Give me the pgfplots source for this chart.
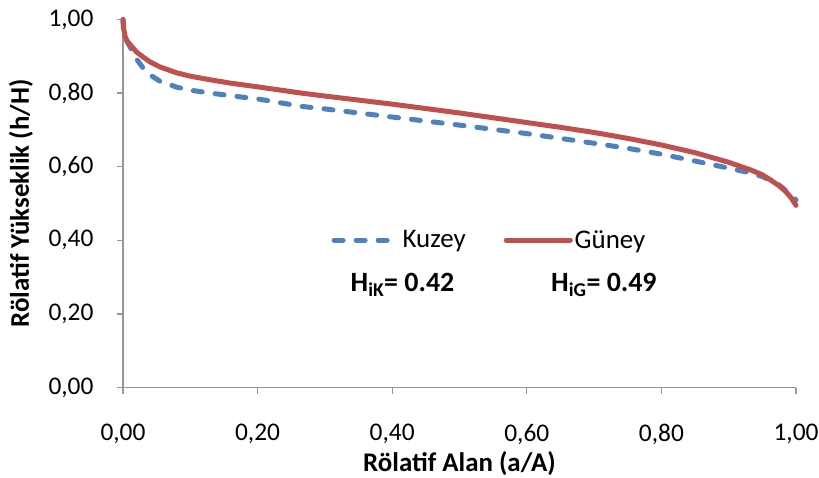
\documentclass[border=0pt]{standalone}
\usepackage{pgfplots}
\pgfplotsset{compat=1.18}
\usepackage{fontspec}
\setmainfont{Carlito}
\definecolor{kblue}{RGB}{79,129,189}
\definecolor{gred}{RGB}{192,80,77}
\definecolor{axgray}{RGB}{150,150,150}
\begin{document}
\begin{tikzpicture}
\useasboundingbox (-123bp,-90.5bp) rectangle (696bp,387.5bp);
\begin{axis}[
  at={(0,0)}, anchor=south west,
  scale only axis, width=673bp, height=368bp,
  xmin=0, xmax=1, ymin=0, ymax=1,
  axis lines=left, axis line style={-, axgray, line width=1.3bp},
  tick style={axgray, line width=1.3bp},
  tick align=outside, major tick length=6bp,
  xtick={0,0.2,0.4,0.6,0.8,1}, ytick={0,0.2,0.4,0.6,0.8,1},
  /pgf/number format/assume math mode=true,
  /pgf/number format/.cd, fixed, fixed zerofill, precision=2, use comma, /pgfplots/.cd,
  ticklabel style={font=\fontsize{25.5}{30}\selectfont, text=black},
  xticklabel style={yshift=-27bp},
  yticklabel style={xshift=-20bp},
  xlabel={\textbf{Rölatif Alan (a/A)}},
  ylabel={\textbf{Rölatif Yükseklik (h/H)}},
  label style={font=\fontsize{27}{32}\selectfont},
  xlabel style={at={(axis description cs:0.5,-0.208)}, anchor=center},
  ylabel style={at={(axis description cs:-0.1515,0.5)}, anchor=center},
  clip=false,
  legend columns=2,
  legend style={draw=none, fill=none, at={(axis cs:0.5446,0.4006)}, anchor=center,
    font=\fontsize{27}{32}\selectfont,
    /tikz/every even column/.append style={column sep=36bp}},
  legend image code/.code={\draw[#1] (0bp,0bp) -- (64bp,0bp);},
]
\addplot[kblue, line width=5bp, line cap=round, dash pattern=on 9bp off 13bp] coordinates {
(0,1.000) (0.001,0.970) (0.003,0.950) (0.0104,0.926) (0.02,0.893) (0.03,0.868)
(0.04,0.850) (0.055,0.832) (0.08,0.816) (0.10,0.808) (0.13,0.800) (0.16,0.793)
(0.204,0.783) (0.265,0.764) (0.30,0.757) (0.40,0.735) (0.50,0.713) (0.60,0.690)
(0.65,0.677) (0.71,0.661) (0.75,0.650) (0.80,0.634) (0.859,0.612) (0.90,0.596)
(0.933,0.583) (0.95,0.573) (0.963,0.562) (0.975,0.550) (0.985,0.535) (0.993,0.522) (1.0,0.510)
};
\addlegendentry{Kuzey}
\addplot[gred, line width=5bp, line cap=round] coordinates {
(0,1.000) (0.001,0.975) (0.003,0.955) (0.006,0.942) (0.0104,0.932) (0.02,0.912)
(0.03,0.898) (0.04,0.885) (0.055,0.871) (0.08,0.855) (0.10,0.846) (0.13,0.836)
(0.16,0.827) (0.20,0.817) (0.265,0.800) (0.30,0.792) (0.40,0.770) (0.50,0.746)
(0.60,0.720) (0.65,0.707) (0.70,0.693) (0.75,0.677) (0.80,0.659) (0.85,0.638)
(0.90,0.612) (0.933,0.591) (0.95,0.578) (0.963,0.563) (0.975,0.548) (0.985,0.532)
(0.993,0.515) (1.0,0.495)
};
\addlegendentry{Güney}
\node[font=\fontsize{28}{33}\selectfont\bfseries, anchor=base west, inner sep=0pt] at (axis cs:0.338,0.260) {H\textsubscript{iK}= 0.42};
\node[font=\fontsize{28}{33}\selectfont\bfseries, anchor=base west, inner sep=0pt] at (axis cs:0.636,0.260) {H\textsubscript{iG}= 0.49};
\end{axis}
\end{tikzpicture}
\end{document}
